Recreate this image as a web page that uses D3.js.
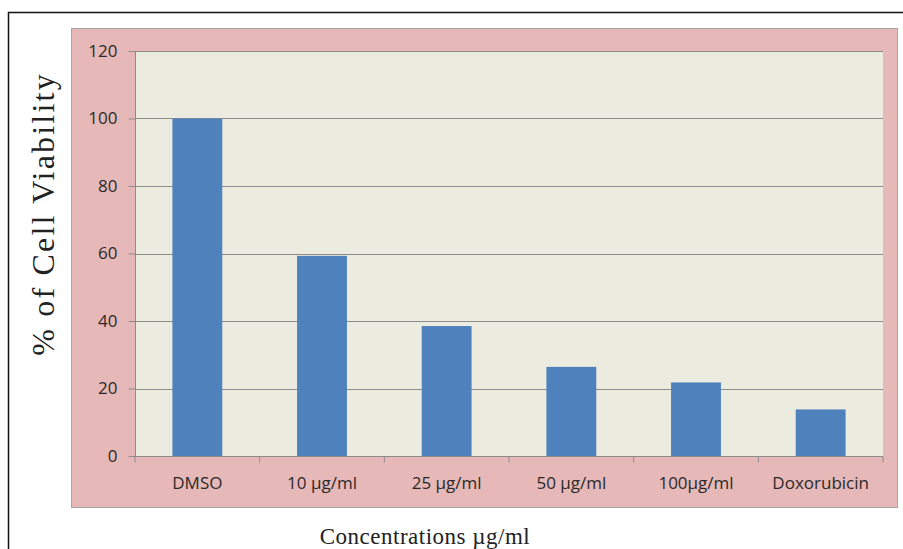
<!DOCTYPE html>
<html>
  <head>
    <meta charset="utf-8">
    <title>Cell Viability</title>
    <script src="https://d3js.org/d3.v7.min.js"></script>
    <style>
      body { margin: 0; background: #fff; }
    </style>
  </head>
  <body>
    <script>
        var categories = ["DMSO", "10 \u00b5g/ml", "25 \u00b5g/ml", "50 \u00b5g/ml", "100\u00b5g/ml", "Doxorubicin"];
        var viability = [100, 59.3, 38.5, 26.4, 21.8, 13.8];
        var yTicks = [0, 20, 40, 60, 80, 100, 120];

        var width = 903;
        var height = 549;
        var svg = d3.select("body").append("svg")
            .attr("width", width)
            .attr("height", height)
        ;

        // outer frame (only top and left show)
        svg.append("path")
            .attr("d", "M8.5,549 V12.5 H903")
            .attr("fill", "none")
            .attr("stroke", "#111")
            .attr("stroke-width", 1.5)
        ;

        // pink chart area
        svg.append("rect")
            .attr("x", 71.5).attr("y", 28.5)
            .attr("width", 826).attr("height", 479)
            .attr("fill", "#e6b8b7")
            .attr("stroke", "#a6a6a6")
        ;

        var plot = {left: 135, right: 883, top: 51, bottom: 456};

        svg.append("rect")
            .attr("x", plot.left).attr("y", plot.top)
            .attr("width", plot.right - plot.left)
            .attr("height", plot.bottom - plot.top)
            .attr("fill", "#ecebe0")
        ;

        var xScale = d3.scaleBand()
            .domain(categories)
            .range([plot.left, plot.right])
            .paddingInner(0.6)
            .paddingOuter(0.3)
        ;
        var yScale = d3.scaleLinear()
            .domain([0, 120])
            .range([plot.bottom, plot.top])
        ;

        // gridlines
        svg.append("g")
            .selectAll("line")
            .data(yTicks.filter(d => d > 0))
            .enter()
            .append("line")
            .attr("x1", plot.left).attr("x2", plot.right)
            .attr("y1", d => Math.round(yScale(d)) + 0.5)
            .attr("y2", d => Math.round(yScale(d)) + 0.5)
            .attr("stroke", "#8c8c8c")
            .attr("stroke-width", 1)
        ;

        // bars
        svg.append("g")
            .selectAll("rect")
            .data(viability)
            .enter()
            .append("rect")
            .attr("x", (d, i) => xScale(categories[i]))
            .attr("y", d => yScale(d))
            .attr("width", xScale.bandwidth())
            .attr("height", d => plot.bottom - yScale(d))
            .attr("fill", "#4f81bd")
        ;

        // y axis
        var axisY = d3.axisLeft(yScale)
            .tickValues(yTicks)
            .tickSize(7)
            .tickPadding(11)
        ;
        var gy = svg.append("g")
            .attr("transform", "translate(" + (plot.left + 0.5) + ",0)")
            .call(axisY)
        ;

        // x axis, ticks at category boundaries
        var step = (plot.right - plot.left) / categories.length;
        var axisX = d3.axisBottom(xScale).tickSize(0).tickPadding(20);
        var gx = svg.append("g")
            .attr("transform", "translate(0," + (plot.bottom + 0.5) + ")")
            .call(axisX)
        ;
        gx.selectAll(".boundary")
            .data(d3.range(categories.length + 1))
            .enter()
            .append("line")
            .attr("x1", i => plot.left + i * step)
            .attr("x2", i => plot.left + i * step)
            .attr("y1", 0).attr("y2", 6)
            .attr("stroke", "#8c8c8c")
        ;

        [gx, gy].forEach(g => {
            g.selectAll(".domain").attr("stroke", "#8c8c8c");
            g.selectAll(".tick line").attr("stroke", "#8c8c8c");
            g.selectAll("text")
                .attr("fill", "#2a2a2a")
                .attr("font-family", "'Open Sans', sans-serif")
                .attr("font-size", 17);
        });
        gy.select(".domain").attr("d", "M0," + plot.top + "V" + plot.bottom);
        gx.select(".domain").attr("d", "M" + plot.left + ",0H" + plot.right);

        // axis titles
        svg.append("text")
            .attr("transform", "translate(54," + 214 + ") rotate(-90)")
            .attr("text-anchor", "middle")
            .attr("font-family", "'Liberation Serif', 'Times New Roman', serif")
            .attr("font-size", 32)
            .attr("letter-spacing", 2.2)
            .attr("fill", "#222")
            .text("% of Cell Viability")
        ;
        svg.append("text")
            .attr("x", 425).attr("y", 544)
            .attr("text-anchor", "middle")
            .attr("font-family", "'Liberation Serif', 'Times New Roman', serif")
            .attr("font-size", 23)
            .attr("letter-spacing", 0.5)
            .attr("fill", "#222")
            .text("Concentrations \u00b5g/ml")
        ;
    </script>
  </body>
</html>
